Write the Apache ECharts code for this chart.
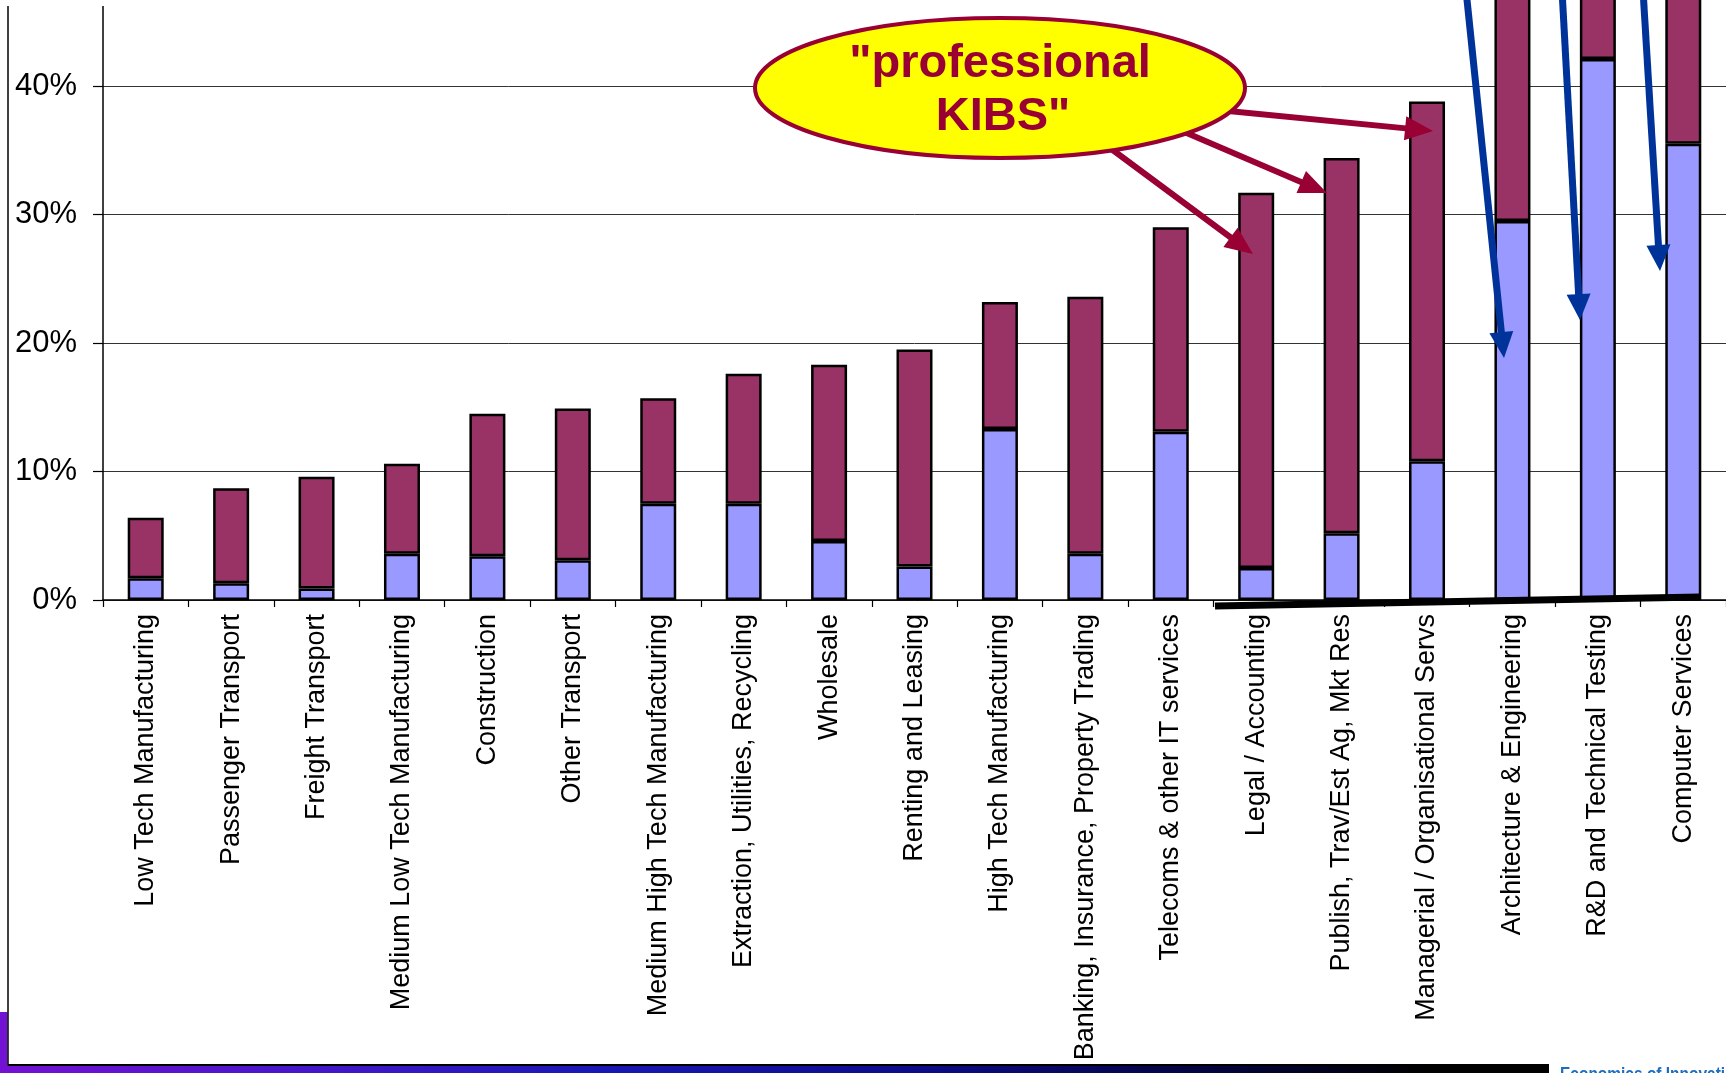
<!DOCTYPE html>
<html>
<head>
<meta charset="utf-8">
<script src="https://cdn.jsdelivr.net/npm/echarts@6/dist/echarts.min.js"></script>
<style>
  html, body { margin: 0; padding: 0; background: #ffffff; }
  #chart { width: 1726px; height: 1073px; }
</style>
</head>
<body>
<div id="chart"></div>
<script>
// Sectors, sorted by total share
const sectors = [
  'Low Tech Manufacturing',
  'Passenger Transport',
  'Freight Transport',
  'Medium Low Tech Manufacturing',
  'Construction',
  'Other Transport',
  'Medium High Tech Manufacturing',
  'Extraction, Utilities, Recycling',
  'Wholesale',
  'Renting and Leasing',
  'High Tech Manufacturing',
  'Banking, Insurance, Property Trading',
  'Telecoms & other IT services',
  'Legal / Accounting',
  'Publish, Trav/Est Ag, Mkt Res',
  'Managerial / Organisational Servs',
  'Architecture & Engineering',
  'R&D and Technical Testing',
  'Computer Services'
];

// Lower (light blue) segment, in %
const baseShare = [1.7, 1.3, 0.9, 3.6, 3.4, 3.1, 7.5, 7.5, 4.6, 2.6, 13.3, 3.6, 13.1, 2.5, 5.2, 10.8, 29.5, 42.1, 35.5];

// Full bar height, in %
const totalShare = [6.4, 8.7, 9.6, 10.6, 14.5, 14.9, 15.7, 17.6, 18.3, 19.5, 23.2, 23.6, 29.0, 31.7, 34.4, 38.8, 49.0, 53.0, 57.0];

// Upper (maroon) segment stacked on top
const upperShare = totalShare.map((t, i) => +(t - baseShare[i]).toFixed(2));

// Value axis range
const yMin = 0;
const yMax = 60;
const yStep = 10;

const FONT = "'Liberation Sans', Arial, Helvetica, sans-serif";
const MAROON = '#990033';
const NAVY = '#003399';

// Straight arrow with a triangular head, from (x1,y1) to the tip (x2,y2)
function arrow(x1, y1, x2, y2, color, width, headLen, headHalf) {
  const dx = x2 - x1, dy = y2 - y1;
  const len = Math.sqrt(dx * dx + dy * dy);
  const ux = dx / len, uy = dy / len;
  const px = -uy, py = ux;
  const bx = x2 - ux * headLen, by = y2 - uy * headLen;
  return [
    {
      type: 'line', z: 50,
      shape: { x1: x1, y1: y1, x2: x2 - ux * headLen * 0.6, y2: y2 - uy * headLen * 0.6 },
      style: { stroke: color, lineWidth: width }
    },
    {
      type: 'polygon', z: 51,
      shape: { points: [[x2, y2], [bx + px * headHalf, by + py * headHalf], [bx - px * headHalf, by - py * headHalf]] },
      style: { fill: color }
    }
  ];
}

const graphics = [];

// Callout arrows from the ellipse
graphics.push(...arrow(1110, 148, 1253, 254, MAROON, 6, 28, 12));
graphics.push(...arrow(1182, 131, 1327, 193, MAROON, 6, 28, 12));
graphics.push(...arrow(1218, 110, 1433, 131, MAROON, 6, 28, 12));

// "professional KIBS" ellipse
graphics.push({
  type: 'ellipse', z: 60,
  shape: { cx: 1000, cy: 88, rx: 245, ry: 70 },
  style: { fill: '#FFFF00', stroke: MAROON, lineWidth: 4 }
});
graphics.push({
  type: 'text', z: 61, x: 1000, y: 64,
  style: { text: '"professional', fill: MAROON, font: 'bold 47px ' + FONT, align: 'center', verticalAlign: 'middle' }
});
graphics.push({
  type: 'text', z: 61, x: 1003, y: 117,
  style: { text: 'KIBS"', fill: MAROON, font: 'bold 47px ' + FONT, align: 'center', verticalAlign: 'middle' }
});

// Blue arrows coming from above
graphics.push(...arrow(1466, -10, 1504, 358, NAVY, 7, 26, 12));
graphics.push(...arrow(1562, -10, 1580, 320, NAVY, 7, 26, 12));
graphics.push(...arrow(1643, -10, 1660, 271, NAVY, 7, 26, 12));

// Thick underline beneath the business-service bars
graphics.push({
  type: 'line', z: 45,
  shape: { x1: 1215, y1: 606, x2: 1700, y2: 597 },
  style: { stroke: '#000', lineWidth: 7, lineCap: 'butt' }
});

// Top margin strip and frame
graphics.push({ type: 'rect', z: 40, shape: { x: 0, y: 0, width: 118, height: 6 }, style: { fill: '#fff' } });
graphics.push({
  type: 'line', z: 40,
  shape: { x1: 8, y1: 6, x2: 8, y2: 1066 },
  style: { stroke: '#000', lineWidth: 1.5 }
});
graphics.push({
  type: 'rect', z: 39,
  shape: { x: 0, y: 1012, width: 7.5, height: 61 },
  style: { fill: '#7212D2' }
});
graphics.push({
  type: 'rect', z: 39,
  shape: { x: 0, y: 1066, width: 1549, height: 7 },
  style: {
    fill: new echarts.graphic.LinearGradient(0, 0, 1, 0, [
      { offset: 0, color: '#7411D3' },
      { offset: 0.2, color: '#4516CA' },
      { offset: 0.38, color: '#1A18B6' },
      { offset: 0.58, color: '#0C0C8C' },
      { offset: 0.78, color: '#03033E' },
      { offset: 0.92, color: '#000000' },
      { offset: 1, color: '#000000' }
    ])
  }
});
graphics.push({
  type: 'line', z: 40,
  shape: { x1: 8, y1: 1065, x2: 1549, y2: 1065 },
  style: { stroke: '#000', lineWidth: 2 }
});
graphics.push({
  type: 'text', z: 41, x: 1560, y: 1066, scaleX: 0.86,
  style: {
    text: 'Economics of Innovation', fill: '#1E6EC0',
    font: "bold 18px 'Liberation Sans', Arial, sans-serif",
    align: 'left', verticalAlign: 'top'
  }
});

const chart = echarts.init(document.getElementById('chart'), null, { renderer: 'canvas' });

chart.setOption({
  animation: false,
  backgroundColor: '#ffffff',
  grid: { left: 103, right: 0, top: -171, bottom: 473, containLabel: false, outerBoundsMode: 'none' },
  xAxis: {
    type: 'category',
    data: sectors,
    axisLine: { show: true, lineStyle: { color: '#000', width: 1.5 } },
    axisTick: { show: true, alignWithLabel: false, length: 7, lineStyle: { color: '#000', width: 1.2 } },
    axisLabel: {
      interval: 0, rotate: 90, margin: 14,
      fontSize: 27, fontFamily: FONT, color: '#000'
    },
    splitLine: { show: false }
  },
  yAxis: {
    type: 'value',
    min: yMin, max: yMax, interval: yStep,
    axisLine: { show: true, lineStyle: { color: '#000', width: 1.5 } },
    axisTick: { show: true, inside: false, length: 10, lineStyle: { color: '#000', width: 1.2 } },
    axisLabel: {
      formatter: '{value}%', margin: 26,
      fontSize: 31, fontFamily: FONT, color: '#000'
    },
    splitLine: { show: true, lineStyle: { color: '#333', width: 1 } }
  },
  series: [
    {
      name: 'Base', type: 'bar', stack: 'share', barWidth: 36,
      data: baseShare,
      itemStyle: { color: '#9999FF', borderColor: '#000', borderWidth: 2.5 },
      z: 10
    },
    {
      name: 'Upper', type: 'bar', stack: 'share', barWidth: 36,
      data: upperShare,
      itemStyle: { color: '#993366', borderColor: '#000', borderWidth: 2.5 },
      z: 10
    }
  ],
  graphic: graphics
});
</script>
</body>
</html>
